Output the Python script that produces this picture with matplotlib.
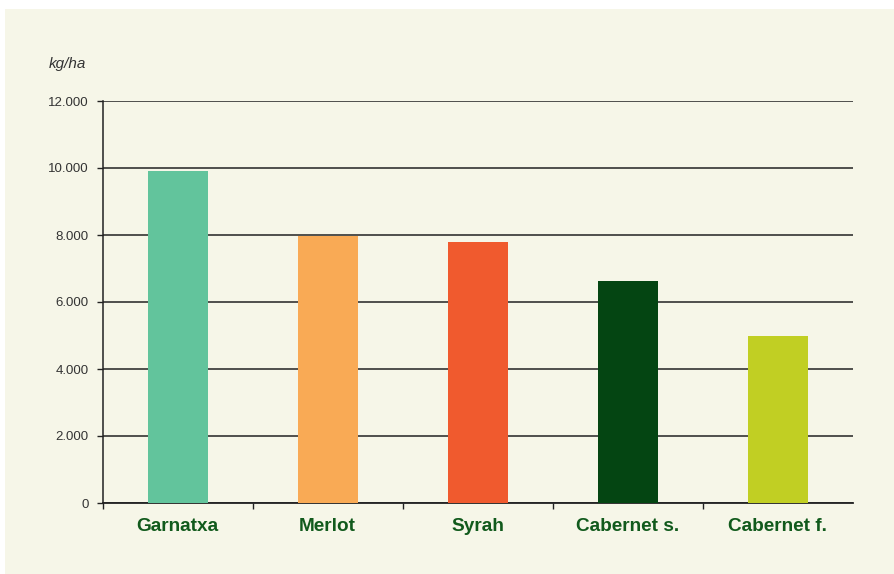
import matplotlib.pyplot as plt
import matplotlib.patches as patches
from matplotlib.ticker import FuncFormatter, FixedLocator

# Données
varietats = ['Garnatxa', 'Merlot', 'Syrah', 'Cabernet s.', 'Cabernet f.']
rendiment = [9900, 7980, 7780, 6620, 5000]
colors = ['#62c49c', '#f9aa55', '#f05a2e', '#044512', '#c1cf23']
y_ticks = [0, 2000, 4000, 6000, 8000, 10000, 12000]

fons = '#f6f6e8'
text_color = '#333333'
label_green = '#115a1c'

plt.rcParams['font.family'] = ['Liberation Sans', 'DejaVu Sans']

fig = plt.figure(figsize=(8.94, 5.74), dpi=100)
fig.patch.set_facecolor('white')

# Fons beix (amb una petita vora blanca a dalt i a l'esquerra)
fig.patches.append(patches.Rectangle((5 / 894, -0.01), 1, 1.01 - 9 / 574,
                                     transform=fig.transFigure,
                                     facecolor=fons, edgecolor='none', zorder=-10))

ax = fig.add_axes([102.7 / 894, 71 / 574, 750 / 894, 402 / 574])
ax.set_facecolor('none')
ax.set_zorder(5)

x = range(len(varietats))
ax.bar(x, rendiment, width=0.4, color=colors, zorder=3)

ax.set_xlim(-0.5, len(varietats) - 0.5)
ax.set_ylim(0, 12000)

# Graella horitzontal
ax.set_yticks(y_ticks)
ax.yaxis.set_major_formatter(FuncFormatter(lambda v, p: f'{int(v):,}'.replace(',', '.')))
ax.grid(axis='y', color='#222222', linewidth=1.1, zorder=1)
ax.set_axisbelow(True)

for s in ['top', 'right']:
    ax.spines[s].set_visible(False)
ax.spines['left'].set_color('#222222')
ax.spines['bottom'].set_color('#222222')
ax.spines['left'].set_linewidth(1.1)
ax.spines['bottom'].set_linewidth(1.3)

ax.tick_params(axis='y', length=4, width=1, color='#222222', labelsize=9.5,
               labelcolor=text_color, pad=6)

# Etiquetes de les varietats + marques entre categories
ax.set_xticks(list(x))
ax.set_xticklabels(varietats, fontsize=13.7, fontweight='bold', color=label_green)
ax.tick_params(axis='x', which='major', length=0, pad=11)
ax.xaxis.set_minor_locator(FixedLocator([i - 0.5 for i in range(len(varietats))]))
ax.tick_params(axis='x', which='minor', length=4, width=1, color='#222222')

fig.text(49 / 894, 1 - 64 / 574, 'kg/ha', fontsize=11, style='italic',
         color=text_color, va='center', ha='left')

fig.savefig('out.png', dpi=100, facecolor=fig.get_facecolor())
